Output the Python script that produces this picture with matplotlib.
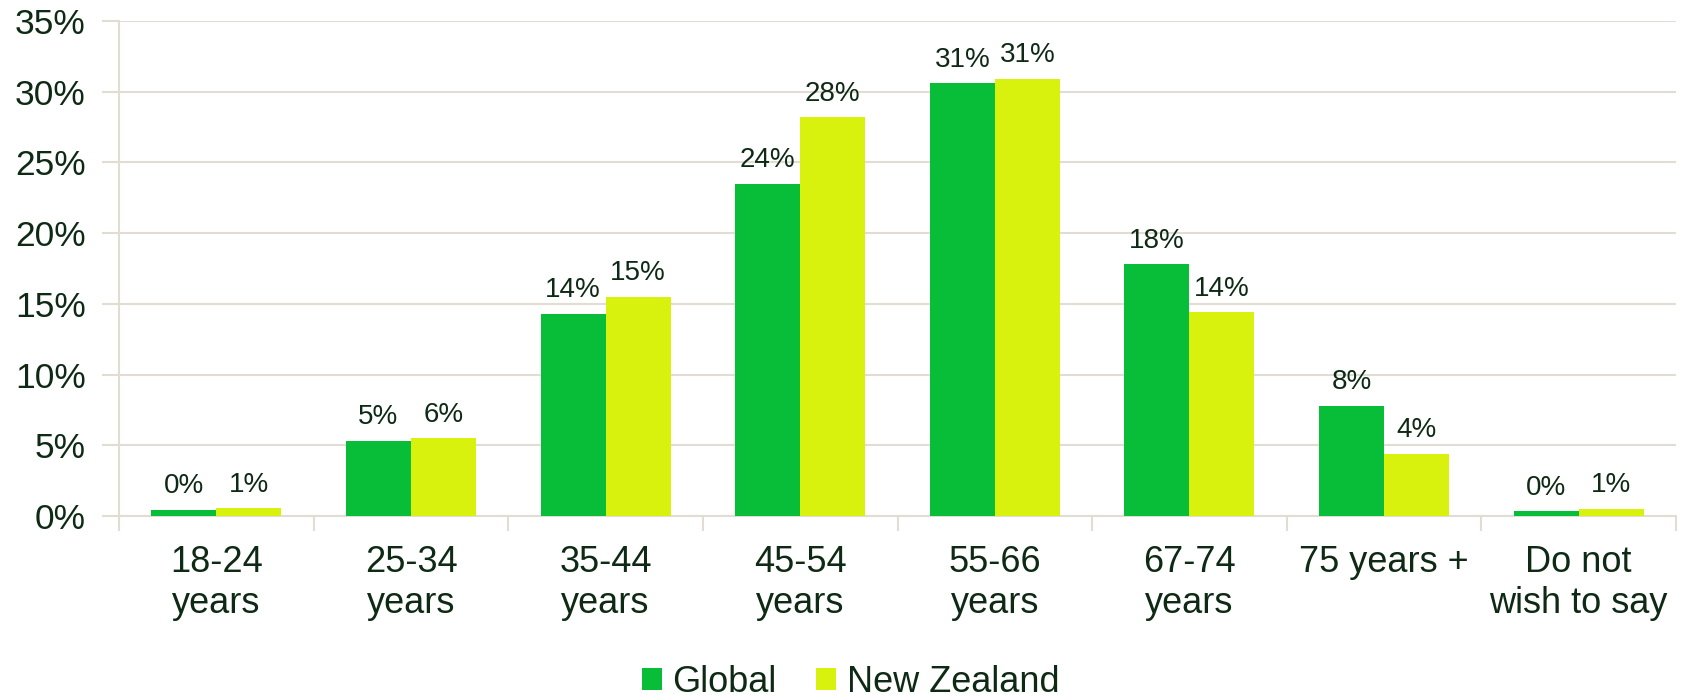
import matplotlib
matplotlib.use("Agg")
import matplotlib.pyplot as plt
import numpy as np
from matplotlib.ticker import FixedLocator, PercentFormatter

categories = ["18-24\nyears", "25-34\nyears", "35-44\nyears", "45-54\nyears",
              "55-66\nyears", "67-74\nyears", "75 years +", "Do not\nwish to say"]
global_vals = [0.45, 5.3, 14.3, 23.5, 30.6, 17.8, 7.8, 0.33]
nz_vals = [0.55, 5.5, 15.5, 28.2, 30.9, 14.4, 4.4, 0.5]
global_labels = ["0%", "5%", "14%", "24%", "31%", "18%", "8%", "0%"]
nz_labels = ["1%", "6%", "15%", "28%", "31%", "14%", "4%", "1%"]
series_names = ["Global", "New Zealand"]

c_global = "#08BD37"
c_nz = "#D8F20E"
txt = "#0E2A14"
grid_c = "#E2DDD3"

plt.rcParams['font.family'] = ['Liberation Sans', 'DejaVu Sans']

fig = plt.figure(figsize=(16.88, 7.0), dpi=100)
ax = fig.add_axes([119/1688, 1-516/700, (1676-119)/1688, (516-21)/700])

x = np.arange(len(categories))
w = 0.334
b1 = ax.bar(x - w/2, global_vals, w, color=c_global, label=series_names[0], zorder=3)
b2 = ax.bar(x + w/2, nz_vals, w, color=c_nz, label=series_names[1], zorder=3)

for bars, labs in ((b1, global_labels), (b2, nz_labels)):
    for r, lab in zip(bars, labs):
        ax.annotate(lab, (r.get_x() + r.get_width()/2, r.get_height()),
                    xytext=(0, 12), textcoords="offset points",
                    ha="center", va="baseline", fontsize=20, color=txt)

ax.set_xlim(-0.5, len(categories) - 0.5)
ax.set_ylim(0, 35)
ax.set_yticks(np.arange(0, 36, 5))
ax.yaxis.set_major_formatter(PercentFormatter(decimals=0))
ax.grid(axis="y", color=grid_c, linewidth=1.5, zorder=0)
ax.set_axisbelow(True)

ax.set_xticks(x)
ax.set_xticklabels(categories, fontsize=26, color=txt, linespacing=1.2)
ax.xaxis.set_minor_locator(FixedLocator(np.arange(-0.5, len(categories), 1.0)))
ax.tick_params(axis="x", which="major", length=0, pad=21)
ax.tick_params(axis="x", which="minor", length=11, width=1.5, color=grid_c)
ax.tick_params(axis="y", which="major", length=12, width=1.5, color=grid_c,
               labelsize=25.5, labelcolor=txt, pad=12)

for s in ("top", "right"):
    ax.spines[s].set_visible(False)
ax.spines["left"].set_color(grid_c)
ax.spines["left"].set_linewidth(1.5)
ax.spines["bottom"].set_color(grid_c)
ax.spines["bottom"].set_linewidth(1.5)

fig.legend(loc="center", bbox_to_anchor=(0.504, 18/700), ncol=2, frameon=False,
           fontsize=26, labelcolor=txt, handlelength=0.55, handleheight=0.55,
           handletextpad=0.3, columnspacing=1.1)

fig.savefig("out.png", dpi=100, facecolor="white")
